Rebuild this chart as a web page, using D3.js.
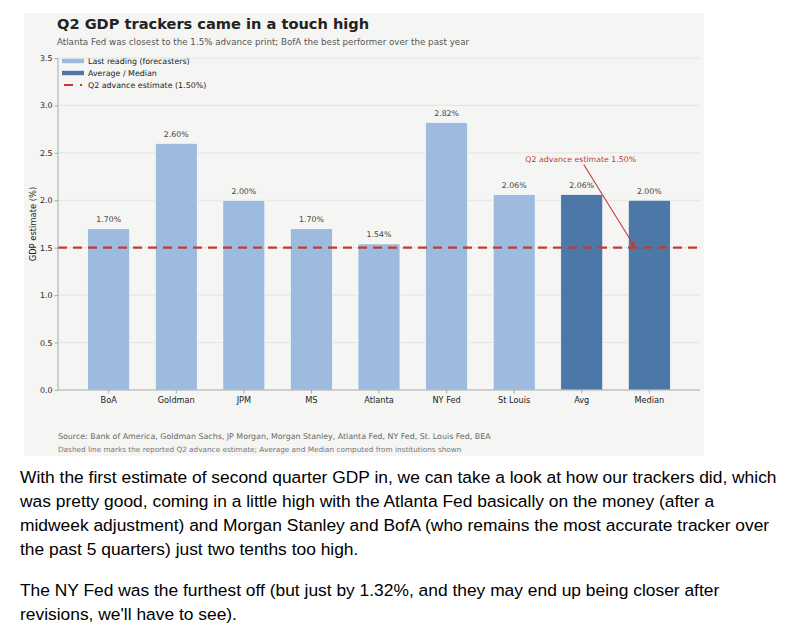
<!DOCTYPE html>
<html>
<head>
<meta charset="utf-8">
<script src="https://cdn.jsdelivr.net/npm/d3@7"></script>
<style>
    body { margin: 0; background: #fff; }
    svg { display: block; }
</style>
</head>
<body>
<svg id="chart" width="792" height="629"></svg>
<script>
// data
const categories = ['BoA', 'Goldman', 'JPM', 'MS', 'Atlanta', 'NY Fed', 'St Louis', 'Avg', 'Median'];
const values = [1.70, 2.60, 2.00, 1.70, 1.54, 2.82, 2.06, 2.06, 2.00];
const groups = ['forecaster', 'forecaster', 'forecaster', 'forecaster', 'forecaster', 'forecaster', 'forecaster', 'aggregate', 'aggregate'];
const advanceEstimate = 1.50;
const yTicks = [0, 0.5, 1.0, 1.5, 2.0, 2.5, 3.0, 3.5];
const legendLabels = ['Last reading (forecasters)', 'Average / Median', 'Q2 advance estimate (1.50%)'];
const paragraphs = [
    [
        'With the first estimate of second quarter GDP in, we can take a look at how our trackers did, which',
        'was pretty good, coming in a little high with the Atlanta Fed basically on the money (after a',
        'midweek adjustment) and Morgan Stanley and BofA (who remains the most accurate tracker over',
        'the past 5 quarters) just two tenths too high.'
    ],
    [
        'The NY Fed was the furthest off (but just by 1.32%, and they may end up being closer after',
        'revisions, we\'ll have to see).'
    ]
];

const colors = { forecaster: '#9dbadf', aggregate: '#4c78a8', line: '#c23b33' };
const chartFont = '"DejaVu Sans", sans-serif';

const svg = d3.select('#chart');
const plot = { left: 58, right: 700, top: 58, bottom: 390 };

// panel behind the chart
svg.append('rect')
    .attr('x', 24).attr('y', 13)
    .attr('width', 680).attr('height', 443)
    .attr('fill', '#f5f5f3');

const x = d3.scaleBand()
    .domain(categories)
    .range([plot.left, plot.right])
    .paddingInner(0.38)
    .paddingOuter(0.44);

const y = d3.scaleLinear()
    .domain([0, 3.5])
    .range([plot.bottom, plot.top]);

const center = name => x(name) + x.bandwidth() / 2;

// grid
svg.append('g')
    .selectAll('line')
    .data(yTicks.slice(1))
    .join('line')
    .attr('x1', plot.left).attr('x2', plot.right)
    .attr('y1', d => y(d)).attr('y2', d => y(d))
    .attr('stroke', '#e4e4e2')
    .attr('stroke-width', 1);

// bars
const rows = categories.map((c, i) => ({ name: c, value: values[i], group: groups[i] }));

svg.append('g')
    .selectAll('rect')
    .data(rows)
    .join('rect')
    .attr('x', d => x(d.name))
    .attr('y', d => y(d.value))
    .attr('width', x.bandwidth())
    .attr('height', d => y(0) - y(d.value))
    .attr('fill', d => colors[d.group])
    .attr('stroke', '#ffffff')
    .attr('stroke-width', 0.6);

svg.append('g')
    .selectAll('text')
    .data(rows)
    .join('text')
    .attr('x', d => center(d.name))
    .attr('y', d => y(d.value) - 6.5)
    .attr('text-anchor', 'middle')
    .attr('font-family', chartFont)
    .attr('font-size', 7.8)
    .attr('fill', '#444')
    .text(d => d.value.toFixed(2) + '%');

// advance estimate line
svg.append('line')
    .attr('x1', plot.left).attr('x2', plot.right)
    .attr('y1', y(advanceEstimate)).attr('y2', y(advanceEstimate))
    .attr('stroke', colors.line)
    .attr('stroke-width', 2.3)
    .attr('stroke-dasharray', '9,6');

// axes
const yAxis = svg.append('g')
    .attr('transform', `translate(${plot.left},0)`)
    .call(d3.axisLeft(y).tickValues(yTicks).tickFormat(d3.format('.1f')).tickSize(3.5).tickPadding(2));

const xAxis = svg.append('g')
    .attr('transform', `translate(0,${plot.bottom})`)
    .call(d3.axisBottom(x).tickSize(3.5).tickPadding(4));

[yAxis, xAxis].forEach(g => {
    g.select('.domain').attr('stroke', '#a8a8a8').attr('stroke-width', 1);
    g.selectAll('.tick line').attr('stroke', '#a8a8a8');
    g.selectAll('.tick text')
        .attr('font-family', chartFont)
        .attr('fill', '#222');
});
yAxis.selectAll('.tick text').attr('font-size', 7.9);
xAxis.selectAll('.tick text').attr('font-size', 8.2);
// no end caps on the spines
yAxis.select('.domain').attr('d', `M0,${plot.top}V${plot.bottom}`);
xAxis.select('.domain').attr('d', `M${plot.left},0H${plot.right}`);

svg.append('text')
    .attr('transform', `translate(36,${(plot.top + plot.bottom) / 2}) rotate(-90)`)
    .attr('text-anchor', 'middle')
    .attr('font-family', chartFont)
    .attr('font-size', 8.4)
    .attr('fill', '#222')
    .text('GDP estimate (%)');

// annotation with arrow
const defs = svg.append('defs');
defs.append('marker')
    .attr('id', 'arrow')
    .attr('viewBox', '0 0 10 10')
    .attr('refX', 9).attr('refY', 5)
    .attr('markerWidth', 6).attr('markerHeight', 6)
    .attr('orient', 'auto')
    .append('path')
    .attr('d', 'M0,1.5L10,5L0,8.5Z')
    .attr('fill', colors.line);

const noteX = center('Avg') - 1;
const noteY = y(2.44);
svg.append('text')
    .attr('x', noteX)
    .attr('y', noteY + 3)
    .attr('text-anchor', 'middle')
    .attr('font-family', chartFont)
    .attr('font-size', 7.8)
    .attr('fill', colors.line)
    .text('Q2 advance estimate 1.50%');

svg.append('line')
    .attr('x1', noteX + 3).attr('y1', noteY + 6)
    .attr('x2', center('Median') - 14).attr('y2', y(advanceEstimate))
    .attr('stroke', colors.line)
    .attr('stroke-width', 1.1)
    .attr('marker-end', 'url(#arrow)');

// legend
const legend = svg.append('g').attr('transform', 'translate(62,61)');
legendLabels.forEach((label, i) => {
    const row = legend.append('g').attr('transform', `translate(0,${i * 12})`);
    if (i < 2) {
        row.append('rect')
            .attr('x', 0).attr('y', -2.2)
            .attr('width', 22).attr('height', 4.4)
            .attr('fill', i === 0 ? colors.forecaster : colors.aggregate);
    } else {
        row.append('line')
            .attr('x1', 2).attr('x2', 20)
            .attr('stroke', colors.line)
            .attr('stroke-width', 2)
            .attr('stroke-dasharray', '9,7');
    }
    row.append('text')
        .attr('x', 26).attr('y', 3)
        .attr('font-family', chartFont)
        .attr('font-size', 7.9)
        .attr('fill', '#222')
        .text(label);
});

// titles
svg.append('text')
    .attr('x', 57).attr('y', 29)
    .attr('font-family', chartFont)
    .attr('font-weight', 'bold')
    .attr('font-size', 14.6)
    .attr('fill', '#222')
    .text('Q2 GDP trackers came in a touch high');

svg.append('text')
    .attr('x', 57).attr('y', 45)
    .attr('font-family', chartFont)
    .attr('font-size', 8.7)
    .attr('fill', '#555')
    .text('Atlanta Fed was closest to the 1.5% advance print; BofA the best performer over the past year');

// footnotes
svg.append('text')
    .attr('x', 58).attr('y', 439)
    .attr('font-family', chartFont)
    .attr('font-size', 7.9)
    .attr('fill', '#666')
    .text('Source: Bank of America, Goldman Sachs, JP Morgan, Morgan Stanley, Atlanta Fed, NY Fed, St. Louis Fed, BEA');

svg.append('text')
    .attr('x', 58).attr('y', 452)
    .attr('font-family', chartFont)
    .attr('font-size', 7.3)
    .attr('fill', '#777')
    .text('Dashed line marks the reported Q2 advance estimate; Average and Median computed from institutions shown');

// article text under the chart
const textTop = 483;
const lineStep = 24;
const paragraphGap = 41;
const lines = [];
paragraphs.forEach((para, p) => {
    para.forEach((line, i) => {
        const prev = lines.length ? lines[lines.length - 1].y : textTop - lineStep;
        lines.push({ text: line, y: prev + (p > 0 && i === 0 ? paragraphGap : lineStep) });
    });
});

svg.append('g')
    .selectAll('text')
    .data(lines)
    .join('text')
    .attr('x', 20)
    .attr('y', d => d.y)
    .attr('font-family', '"Liberation Sans", Arial, sans-serif')
    .attr('font-size', 17.4)
    .attr('fill', '#000')
    .text(d => d.text);
</script>
</body>
</html>
